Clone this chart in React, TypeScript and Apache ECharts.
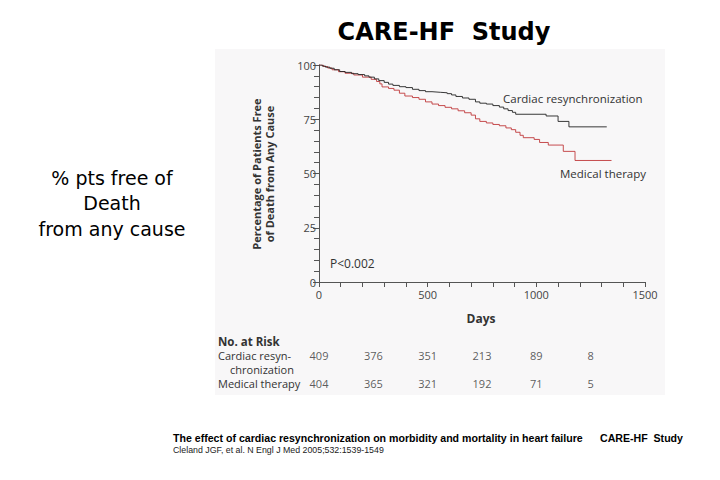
import React, { useEffect, useRef } from "react";
import * as echarts from "echarts";

// Kaplan-Meier curves (day, % free of death)
const crtCurve: [number, number][] = [
  [0, 100], [15, 99.5], [30, 99], [50, 98.5], [70, 97.8], [95, 97], [120, 96.6], [150, 96],
  [180, 95.6], [210, 95], [230, 94.4], [255, 93.6], [275, 92.8], [300, 92], [320, 91.2],
  [340, 90.6], [370, 90], [400, 89.6], [430, 88.8], [460, 88.2], [490, 87.7], [520, 87.4],
  [560, 87.2], [590, 86.8], [610, 86.2], [630, 85.5], [660, 84.8], [690, 84.2], [720, 83],
  [740, 82.4], [770, 82], [800, 81.3], [830, 80.6], [850, 79.8], [870, 79], [890, 78.2],
  [905, 77.3], [1045, 76.5], [1100, 74], [1150, 71.5], [1324, 71.5],
];
const medCurve: [number, number][] = [
  [0, 100], [20, 99.3], [40, 98.6], [60, 97.8], [90, 96.9], [120, 96.2], [160, 95.4],
  [200, 94.4], [240, 93.4], [265, 92.4], [280, 91.3], [290, 89.9], [320, 89.2], [345, 88.4],
  [370, 87], [395, 85.7], [430, 85], [460, 84.2], [490, 83], [520, 82], [550, 81.3],
  [580, 80.5], [610, 79.8], [640, 78.9], [670, 78], [700, 76.9], [720, 75.2], [740, 74],
  [770, 73.3], [800, 72.6], [830, 72], [860, 71], [885, 70.2], [905, 69], [925, 67.6],
  [940, 66.5], [990, 65.7], [1015, 64.3], [1055, 63.1], [1124, 60.2], [1178, 56], [1346, 56],
];

// Numbers at risk
const riskDays = [0, 250, 500, 750, 1000, 1250];
const crtRisk = [409, 376, 351, 213, 89, 8];
const medRisk = [404, 365, 321, 192, 71, 5];
const riskRows = ["Medical therapy", "Cardiac resynchronization"];

const xTicks = [0, 500, 1000, 1500];
const yTicks = [0, 25, 50, 75, 100];

const FIG_FONT = "'Open Sans', 'DejaVu Sans', sans-serif";
const TXT = "#333333";

export default function App() {
  const ref = useRef<HTMLDivElement>(null);
  useEffect(() => {
    if (!ref.current) return;
    const chart = echarts.init(ref.current, undefined, { renderer: "svg" });
    const axisLine = { lineStyle: { color: "#555", width: 1 } };
    chart.setOption({
      animation: false,
      backgroundColor: "#ffffff",
      grid: [
        { left: 319, right: 75, top: 65, bottom: 198 },
        { left: 319, right: 75, top: 341, height: 56 },
      ],
      xAxis: [
        {
          gridIndex: 0, type: "value", min: xTicks[0], max: xTicks[xTicks.length - 1], interval: 500,
          axisLine, axisTick: { show: true, length: 5, lineStyle: { color: "#555" } },
          minorTick: { show: true, splitNumber: 5, length: 5, lineStyle: { color: "#555" } },
          splitLine: { show: false },
          axisLabel: { color: "#444", fontFamily: FIG_FONT, fontSize: 11, margin: 7, formatter: (v: number) => String(v) },
        },
        { gridIndex: 1, type: "value", min: 0, max: 1500, show: false },
      ],
      yAxis: [
        {
          gridIndex: 0, type: "value", min: yTicks[0], max: yTicks[yTicks.length - 1], interval: 25,
          axisLine: { show: true, lineStyle: { color: "#555", width: 1 } },
          axisTick: { show: true, length: 6, lineStyle: { color: "#555" } },
          minorTick: { show: true, splitNumber: 5, length: 5, lineStyle: { color: "#555" } },
          splitLine: { show: false },
          axisLabel: { color: "#444", fontFamily: FIG_FONT, fontSize: 11, margin: 3, formatter: (v: number) => String(v) },
        },
        { gridIndex: 1, type: "category", data: riskRows, show: false },
      ],
      series: [
        {
          type: "line", step: "end", data: medCurve, xAxisIndex: 0, yAxisIndex: 0,
          symbol: "none", lineStyle: { color: "#c0393b", width: 0.9 }, z: 3,
        },
        {
          type: "line", step: "end", data: crtCurve, xAxisIndex: 0, yAxisIndex: 0,
          symbol: "none", lineStyle: { color: "#222", width: 0.9 }, z: 4,
        },
        {
          type: "scatter", xAxisIndex: 1, yAxisIndex: 1, symbolSize: 0,
          data: riskDays.map((d, i) => [d, riskRows[1], crtRisk[i]]),
          label: { show: true, position: "inside", formatter: (p: any) => String(p.value[2]), color: TXT, fontFamily: FIG_FONT, fontSize: 11 },
        },
        {
          type: "scatter", xAxisIndex: 1, yAxisIndex: 1, symbolSize: 0,
          data: riskDays.map((d, i) => [d, riskRows[0], medRisk[i]]),
          label: { show: true, position: "inside", formatter: (p: any) => String(p.value[2]), color: TXT, fontFamily: FIG_FONT, fontSize: 11 },
        },
      ],
      graphic: [
        { type: "rect", z: -10, silent: true, shape: { x: 215, y: 49, width: 450, height: 346 }, style: { fill: "#f8f7f8" } },
        { type: "text", x: 444, y: 32, style: { text: "CARE-HF  Study", fontFamily: "'DejaVu Sans', sans-serif", fontWeight: "bold", fontSize: 24, fill: "#000", align: "center", verticalAlign: "middle" } },
        { type: "text", x: 112, y: 178, style: { text: "% pts free of", fontFamily: "'DejaVu Sans', sans-serif", fontSize: 19, fill: "#000", align: "center", verticalAlign: "middle" } },
        { type: "text", x: 112, y: 203, style: { text: "Death", fontFamily: "'DejaVu Sans', sans-serif", fontSize: 19, fill: "#000", align: "center", verticalAlign: "middle" } },
        { type: "text", x: 112, y: 229, style: { text: "from any cause", fontFamily: "'DejaVu Sans', sans-serif", fontSize: 19, fill: "#000", align: "center", verticalAlign: "middle" } },
        { type: "text", x: 263, y: 174, rotation: Math.PI / 2, style: { text: "Percentage of Patients Free\nof Death from Any Cause", fontFamily: FIG_FONT, fontWeight: "bold", fontSize: 11, lineHeight: 13, fill: TXT, align: "center", verticalAlign: "middle" } },
        { type: "text", x: 481, y: 318, style: { text: "Days", fontFamily: FIG_FONT, fontWeight: "bold", fontSize: 12, fill: TXT, align: "center", verticalAlign: "middle" } },
        { type: "text", x: 330, y: 263, style: { text: "P<0.002", fontFamily: FIG_FONT, fontSize: 12, fill: TXT, align: "left", verticalAlign: "middle" } },
        { type: "text", x: 503, y: 98, style: { text: "Cardiac resynchronization", fontFamily: FIG_FONT, fontSize: 11.5, fill: TXT, align: "left", verticalAlign: "middle" } },
        { type: "text", x: 560, y: 173, style: { text: "Medical therapy", fontFamily: FIG_FONT, fontSize: 11.5, fill: TXT, align: "left", verticalAlign: "middle" } },
        { type: "text", x: 218, y: 341, style: { text: "No. at Risk", fontFamily: FIG_FONT, fontWeight: "bold", fontSize: 11.5, fill: TXT, align: "left", verticalAlign: "middle" } },
        { type: "text", x: 218, y: 355, style: { text: "Cardiac resyn-", fontFamily: FIG_FONT, fontSize: 11, fill: TXT, align: "left", verticalAlign: "middle" } },
        { type: "text", x: 230, y: 369, style: { text: "chronization", fontFamily: FIG_FONT, fontSize: 11, fill: TXT, align: "left", verticalAlign: "middle" } },
        { type: "text", x: 218, y: 383, style: { text: "Medical therapy", fontFamily: FIG_FONT, fontSize: 11, fill: TXT, align: "left", verticalAlign: "middle" } },
        { type: "text", x: 173, y: 438, style: { text: "The effect of cardiac resynchronization on morbidity and mortality in heart failure", fontFamily: "'Liberation Sans', Arial, sans-serif", fontWeight: "bold", fontSize: 10.6, fill: "#000", align: "left", verticalAlign: "middle" } },
        { type: "text", x: 600, y: 438, style: { text: "CARE-HF  Study", fontFamily: "'Liberation Sans', Arial, sans-serif", fontWeight: "bold", fontSize: 10.6, fill: "#000", align: "left", verticalAlign: "middle" } },
        { type: "text", x: 173, y: 450, style: { text: "Cleland JGF, et al. N Engl J Med 2005;532:1539-1549", fontFamily: "'Liberation Sans', Arial, sans-serif", fontSize: 8.8, fill: "#222", align: "left", verticalAlign: "middle" } },
      ],
    });
    return () => chart.dispose();
  }, []);
  return <div ref={ref} style={{ position: "fixed", left: 0, top: 0, width: 720, height: 480 }} />;
}
